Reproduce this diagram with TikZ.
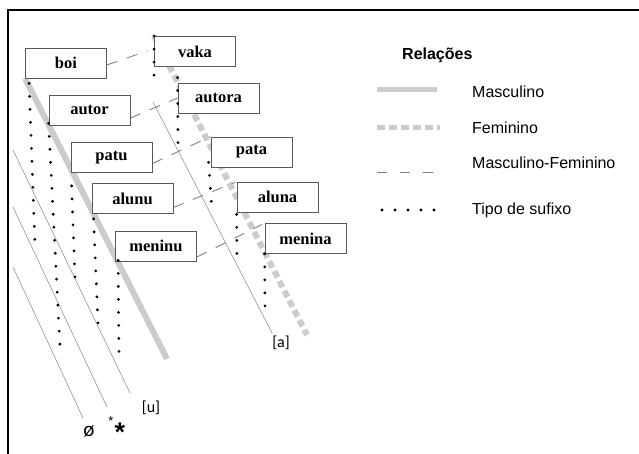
\documentclass[tikz,border=0pt]{standalone}
\usepackage{fontspec}
\setmainfont{Liberation Serif}
\setsansfont{Liberation Sans}
\newfontfamily\calfont{Carlito}
\usetikzlibrary{backgrounds}
\definecolor{lightg}{gray}{0.8}
\definecolor{thing}{gray}{0.62}
\definecolor{dashg}{gray}{0.5}
\definecolor{boxg}{gray}{0.35}
\begin{document}
\begin{tikzpicture}[x=1pt,y=-1pt,
  word/.style={draw=boxg,fill=white,line width=0.8pt,minimum width=81pt,minimum height=30pt,inner sep=0pt,font=\fontsize{16.5}{18}\selectfont\bfseries},
  masc/.style={draw=lightg,line width=6pt},
  fem/.style={draw=lightg,line width=6pt,dash pattern=on 7pt off 4pt},
  mf/.style={draw=dashg,line width=0.9pt,dash pattern=on 11pt off 10pt},
  suf/.style={draw=black,line width=3.1pt,line cap=round,dash pattern=on 0pt off 13pt},
  thin/.style={draw=thing,line width=0.7pt},
  leg/.style={anchor=west,inner sep=0pt,font=\sffamily\fontsize{16}{18}\selectfont},
  ipa/.style={inner sep=0pt,font=\calfont\fontsize{16}{18}\selectfont}]
\useasboundingbox (0,0) rectangle (639,454);
\path[draw=black,line width=1.5pt] (8,454) -- (8,10) -- (639,10);

% palavras
\node[word] (boi) at (66,63) {boi};
\node[word] (autor) at (89.5,110) {autor};
\node[word] (patu) at (111.5,157.5) {patu};
\node[word] (alunu) at (132.5,198.5) {alunu};
\node[word] (meninu) at (156,246) {meninu};
\node[word] (vaka) at (195,51.5) {vaka};
\node[word] (autora) at (218.5,98) {autora};
\node[word] (pata) at (251.5,152) {pata};
\node[word] (aluna) at (277.5,197) {aluna};
\node[word] (menina) at (305.5,238.5) {menina};

% rotulos
\node[ipa] (a) at (281,343) {[a]};
\node[ipa] (u) at (151,408) {[u]};
\node[ipa,font=\calfont\fontsize{21}{21}\selectfont] (zero) at (89,431) {ø};
\node[inner sep=0pt,font=\sffamily\fontsize{13}{13}\selectfont] (star1) at (111,421) {*};
\node[inner sep=0pt,font=\sffamily\bfseries\fontsize{27}{27}\selectfont] (star2) at (120,432) {*};

\coordinate (mEnd) at (167,359);
\coordinate (fEnd) at (307,335);

\begin{scope}[on background layer]
\path[thin] (13,150) -- (130,393);
\path[thin] (13,207) -- (107,407);
\path[thin] (13,267) -- (83,418);
\path[thin] (153,102) -- (272,333);
\path[masc] (boi.south west) -- (mEnd);
\path[fem] (vaka.north west) -- (fEnd);
\path[mf,shorten >=7pt] ([yshift=-2pt]boi.east) -- ([yshift=3pt]vaka.west);
\path[mf] ([yshift=-8pt]autor.east) -- (autora.west);
\path[mf] ([yshift=-6pt]patu.east) -- (pata.north west);
\path[mf,shorten >=2pt] ([yshift=-9pt]alunu.east) -- (aluna.north west);
\path[mf,shorten >=3pt] ([yshift=-11pt]meninu.east) -- (menina.north west);
\end{scope}

% sufixos
\path[suf] ([shift={(4,5)}]boi.south west) -- (35,245);
\path[suf] ([shift={(0,-2)}]autor.south west) -- (60,347);
\path[suf] ([shift={(1,13)}]patu.south west) -- (75,277);
\path[suf] ([shift={(2,5)}]alunu.south west) -- (98,323);
\path[suf] ([shift={(3,-1)}]meninu.south west) -- (119,356);
\path[suf] (vaka.north west) -- (154,87);
\path[suf] ([shift={(0,-5)}]autora.north west) -- (178,143);
\path[suf] ([shift={(-2,-5)}]pata.south west) -- (212,212);
\path[suf] ([shift={(0,2)}]aluna.south west) -- (237,263);
\path[suf] (menina.south west) -- (265,308);

% legenda
\node[leg,font=\sffamily\bfseries\fontsize{16}{18}\selectfont] (rel) at (402,55) {Relações};
\node[leg] (lm) at (472,92) {Masculino};
\node[leg] (lf) at (472,128) {Feminino};
\node[leg] (lmf) at (472,163) {Masculino-Feminino};
\node[leg] (ls) at (472,210) {Tipo de sufixo};
\path[masc,line width=5pt] (377,90) -- (437,90);
\path[fem,line width=5pt,dash pattern=on 8pt off 4pt] (377,128) -- (440,128);
\path[mf,dash pattern=on 10pt off 13pt] (377,172) -- (437,172);
\path[suf] (382,210) -- (442,210);
\end{tikzpicture}
\end{document}
